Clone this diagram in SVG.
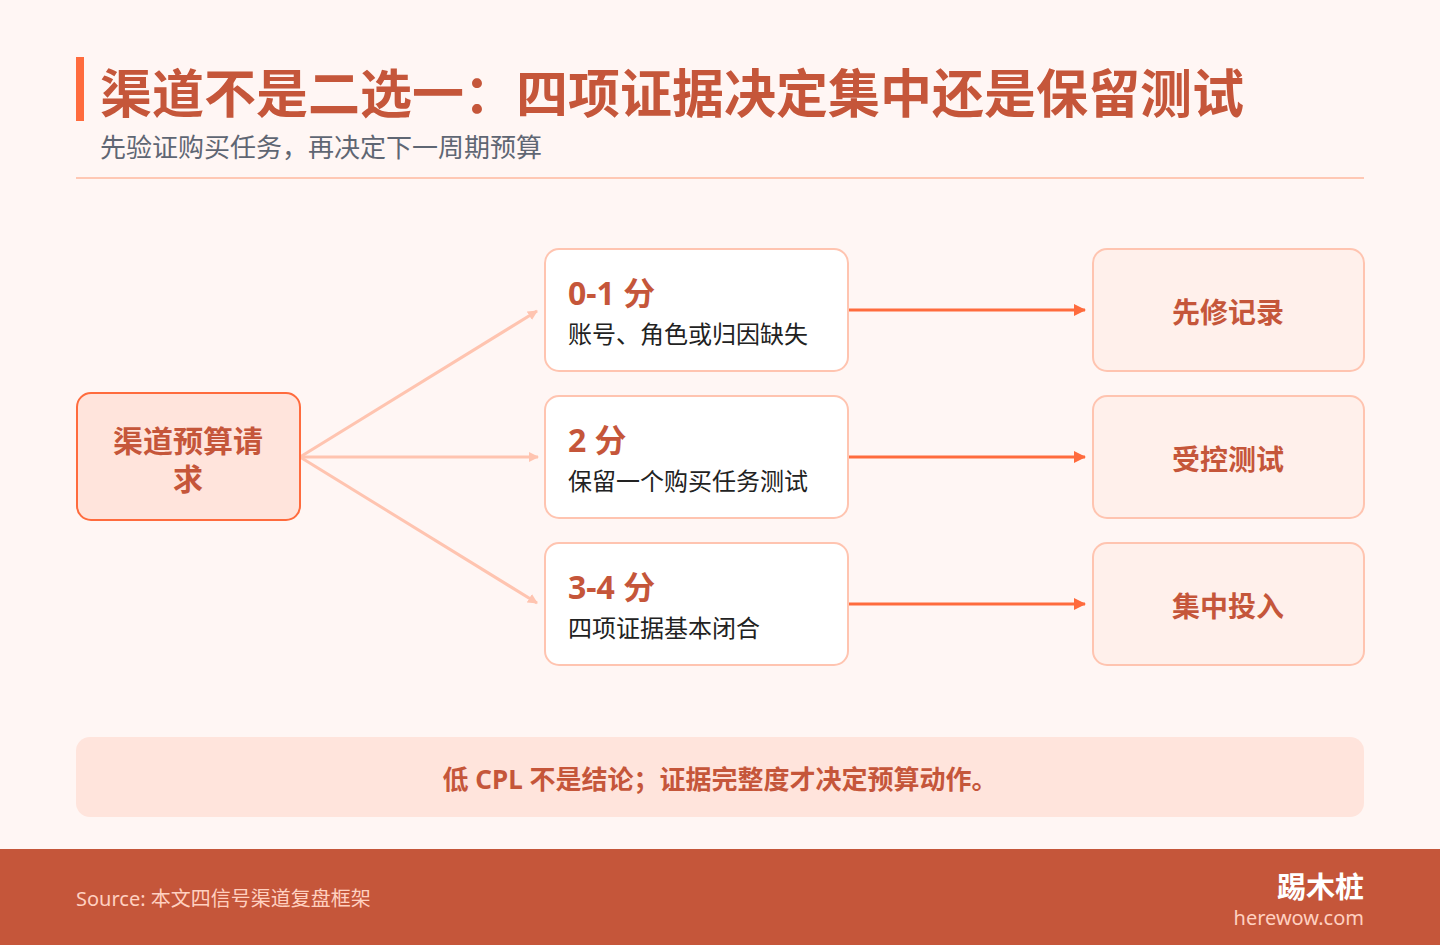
<svg xmlns="http://www.w3.org/2000/svg" width="1440" height="945" viewBox="0 0 1440 945">
<style>
text{font-family:"Noto Sans","Noto Sans CJK SC",sans-serif}
.title{font-size:52px;font-weight:700;fill:#C5563A}
.sub{font-size:26px;fill:#5F6673}
.src{fill:#FFE4DC;stroke:#FF6B3D;stroke-width:2}
.mid{fill:#FFFFFF;stroke:#FFC4B0;stroke-width:2}
.out{fill:#FFF0EB;stroke:#FFC4B0;stroke-width:2}
.lbl{font-size:28px;font-weight:700;fill:#C5563A;text-anchor:middle}
.big{font-size:30px}
.score{font-size:32px;font-weight:700;fill:#C5563A}
.desc{font-size:24px;fill:#222222}
.fan{stroke:#FFC4B0;stroke-width:3;fill:none}
.act{stroke:#FF6B3D;stroke-width:3;fill:none}
</style>
<defs>
<marker id="ah1" markerWidth="10" markerHeight="10" refX="9" refY="5" orient="auto" markerUnits="userSpaceOnUse"><path d="M0,0 L10,5 L0,10 Z" fill="#FFC4B0"/></marker>
<marker id="ah2" markerWidth="12" markerHeight="12" refX="11" refY="6" orient="auto" markerUnits="userSpaceOnUse"><path d="M0,0 L12,6 L0,12 Z" fill="#FF6B3D"/></marker>
</defs>
<rect width="1440" height="945" fill="#FFF6F4"/>
<g id="header">
<rect x="76" y="57" width="8" height="64" fill="#FF6B3D"/>
<text class="title" x="100" y="113">渠道不是二选一：四项证据决定集中还是保留测试</text>
<text class="sub" x="100" y="157">先验证购买任务，再决定下一周期预算</text>
<line x1="76" y1="178" x2="1364" y2="178" stroke="#FFC8B4" stroke-width="2"/>
</g>
<g id="connectors">
<line class="fan" x1="300" y1="457" x2="537" y2="311" marker-end="url(#ah1)"/>
<line class="fan" x1="300" y1="457" x2="538" y2="457" marker-end="url(#ah1)"/>
<line class="fan" x1="300" y1="457" x2="537" y2="603" marker-end="url(#ah1)"/>
<line class="act" x1="849" y1="310" x2="1085" y2="310" marker-end="url(#ah2)"/>
<line class="act" x1="849" y1="457" x2="1085" y2="457" marker-end="url(#ah2)"/>
<line class="act" x1="849" y1="604" x2="1085" y2="604" marker-end="url(#ah2)"/>
</g>
<g id="node-request">
<rect class="src" x="77" y="393" width="223" height="127" rx="14"/>
<text class="lbl big" x="188" y="452">渠道预算请</text>
<text class="lbl big" x="188" y="490">求</text>
</g>
<g id="node-score01">
<rect class="mid" x="545" y="249" width="303" height="122" rx="14"/>
<text class="score" x="568" y="305">0-1 分</text>
<text class="desc" x="568" y="343">账号、角色或归因缺失</text>
</g>
<g id="node-score2">
<rect class="mid" x="545" y="396" width="303" height="122" rx="14"/>
<text class="score" x="568" y="452">2 分</text>
<text class="desc" x="568" y="490">保留一个购买任务测试</text>
</g>
<g id="node-score34">
<rect class="mid" x="545" y="543" width="303" height="122" rx="14"/>
<text class="score" x="568" y="599">3-4 分</text>
<text class="desc" x="568" y="637">四项证据基本闭合</text>
</g>
<g id="node-fix">
<rect class="out" x="1093" y="249" width="271" height="122" rx="14"/>
<text class="lbl" x="1228" y="323">先修记录</text>
</g>
<g id="node-test">
<rect class="out" x="1093" y="396" width="271" height="122" rx="14"/>
<text class="lbl" x="1228" y="470">受控测试</text>
</g>
<g id="node-focus">
<rect class="out" x="1093" y="543" width="271" height="122" rx="14"/>
<text class="lbl" x="1228" y="617">集中投入</text>
</g>
<g id="note">
<rect x="76" y="737" width="1288" height="80" rx="14" fill="#FFE4DC"/>
<text x="720" y="789" text-anchor="middle" font-size="26" font-weight="700" fill="#C5563A">低 CPL 不是结论；证据完整度才决定预算动作。</text>
</g>
<g id="footer">
<rect x="0" y="849" width="1440" height="96" fill="#C5563A"/>
<text x="76" y="906" font-size="20" fill="#FFD0C0">Source: 本文四信号渠道复盘框架</text>
<text x="1364" y="898" font-size="29" font-weight="700" fill="#FFFFFF" text-anchor="end">踢木桩</text>
<text x="1364" y="925" font-size="20" fill="#FFD0C0" text-anchor="end">herewow.com</text>
</g>
</svg>
